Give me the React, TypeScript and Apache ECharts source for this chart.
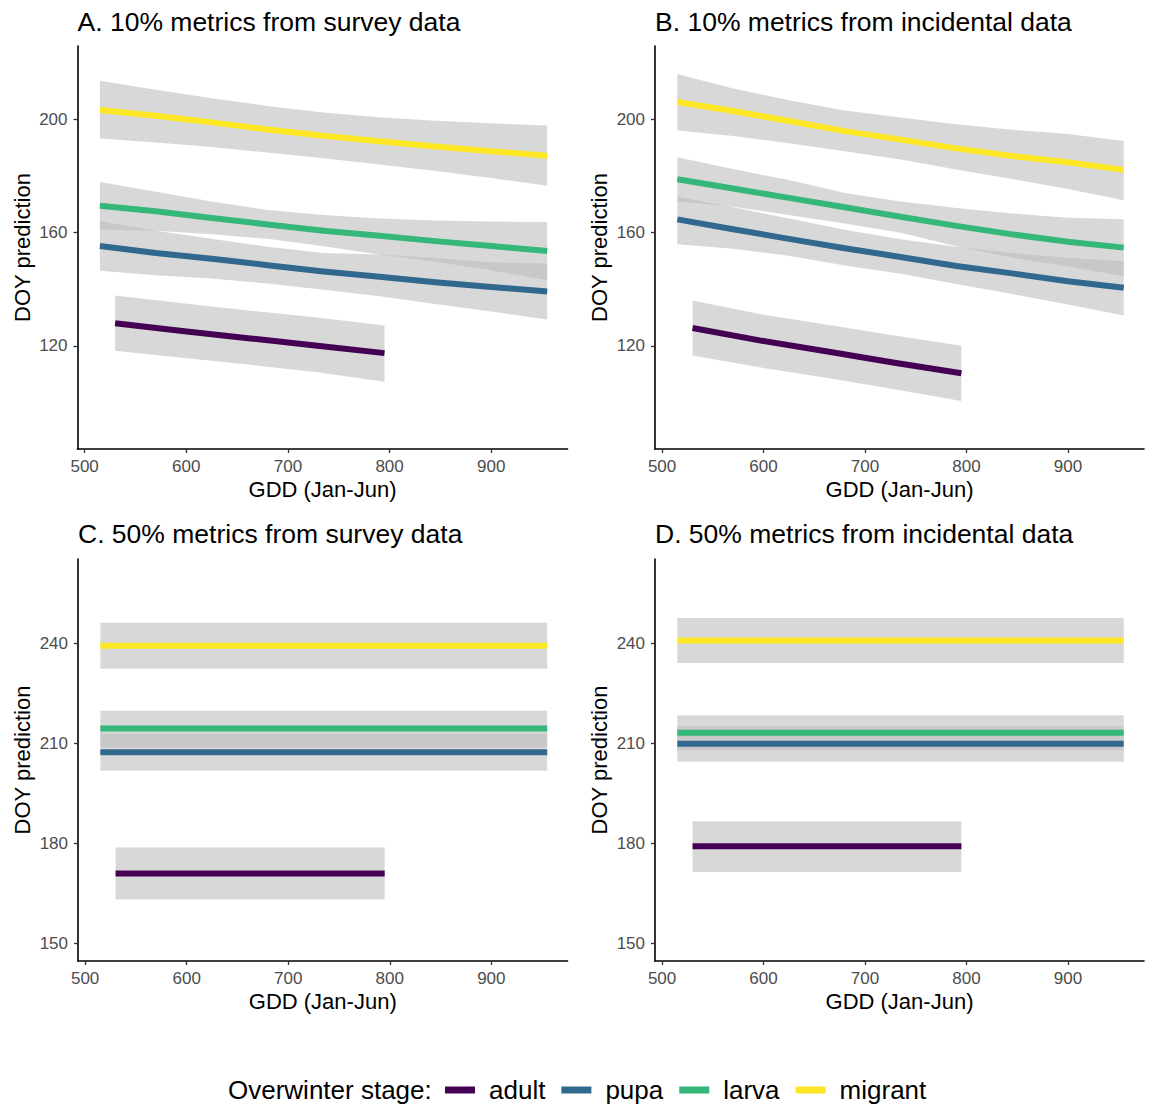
import React, { useEffect, useRef } from "react";
import * as echarts from "echarts";

const FONT = '"Liberation Sans", Arial, Helvetica, sans-serif';
const STAGES = ["adult", "pupa", "larva", "migrant"];
const COLORS = ["#440154", "#31688E", "#35B779", "#FDE725"];
const RIBBON = "rgba(190,190,190,0.6)";

const TITLES = [
  "A. 10% metrics from survey data",
  "B. 10% metrics from incidental data",
  "C. 50% metrics from survey data",
  "D. 50% metrics from incidental data",
];
const X_TITLE = "GDD (Jan-Jun)";
const Y_TITLE = "DOY prediction";
const LEGEND_TITLE = "Overwinter stage:";

const X_TICKS = [500, 600, 700, 800, 900];
const Y_TICKS_10 = [120, 160, 200];
const Y_TICKS_50 = [150, 180, 210, 240];

// x positions (GDD) of the fitted curves
const X_LONG = [515, 570, 625, 680, 735, 790, 845, 900, 955];
const X_ADULT = [530, 596, 663, 729, 795];
const X_FLAT_LONG = [515, 955];
const X_FLAT_ADULT = [530, 795];

// Panel A: 10% survey
const A_ADULT_FIT = [128.0, 125.2, 122.6, 120.0, 117.4];
const A_ADULT_LO = [118.2, 115.8, 113.3, 110.6, 107.3];
const A_ADULT_HI = [137.8, 135.0, 132.4, 130.0, 127.2];
const A_PUPA_FIT = [155.3, 152.8, 150.8, 148.5, 146.3, 144.4, 142.5, 140.8, 139.2];
const A_PUPA_LO = [146.5, 144.9, 143.8, 142.0, 139.8, 137.5, 134.8, 132.1, 129.3];
const A_PUPA_HI = [164.1, 160.7, 157.8, 155.0, 152.8, 152.3, 151.0, 149.5, 149.1];
const A_LARVA_FIT = [169.5, 167.6, 165.2, 162.9, 160.7, 158.9, 157.0, 155.3, 153.5];
const A_LARVA_LO = [161.1, 160.7, 159.4, 157.8, 155.2, 152.3, 149.7, 146.7, 143.2];
const A_LARVA_HI = [177.9, 174.5, 171.0, 168.0, 166.2, 165.0, 164.3, 163.9, 163.8];
const A_MIGRANT_FIT = [203.4, 201.3, 199.0, 196.5, 194.3, 192.3, 190.5, 188.8, 187.2];
const A_MIGRANT_LO = [193.3, 191.9, 190.3, 188.3, 186.3, 184.1, 181.8, 179.3, 176.6];
const A_MIGRANT_HI = [213.7, 210.5, 207.5, 204.8, 202.5, 200.8, 199.6, 198.7, 197.9];

// Panel B: 10% incidental
const B_ADULT_FIT = [126.3, 121.9, 118.0, 114.0, 110.3];
const B_ADULT_LO = [116.6, 112.4, 108.6, 104.6, 100.5];
const B_ADULT_HI = [136.0, 131.2, 127.4, 123.6, 120.0];
const B_PUPA_FIT = [164.7, 161.2, 157.8, 154.5, 151.4, 148.2, 145.6, 142.8, 140.5];
const B_PUPA_LO = [155.9, 154.3, 151.8, 148.4, 145.5, 141.8, 138.3, 134.6, 130.7];
const B_PUPA_HI = [172.8, 169.0, 165.0, 161.0, 157.7, 155.0, 152.8, 151.1, 149.9];
const B_LARVA_FIT = [178.9, 175.6, 172.3, 169.0, 165.6, 162.4, 159.4, 156.8, 154.7];
const B_LARVA_LO = [171.1, 169.2, 166.2, 163.2, 160.0, 155.2, 151.2, 148.0, 144.6];
const B_LARVA_HI = [186.7, 182.5, 178.6, 174.0, 171.0, 168.7, 166.8, 165.3, 164.7];
const B_MIGRANT_FIT = [206.2, 203.0, 199.5, 195.9, 192.9, 189.8, 187.1, 184.9, 182.2];
const B_MIGRANT_LO = [196.1, 194.2, 191.6, 188.8, 185.9, 182.3, 179.0, 175.4, 171.5];
const B_MIGRANT_HI = [216.1, 211.0, 206.8, 203.2, 200.7, 198.3, 196.4, 194.9, 192.4];

// Panel C: 50% survey (constant predictions)
const C_ADULT_FIT = [171.0, 171.0];
const C_ADULT_LO = [163.2, 163.2];
const C_ADULT_HI = [178.8, 178.8];
const C_PUPA_FIT = [207.4, 207.4];
const C_PUPA_LO = [201.8, 201.8];
const C_PUPA_HI = [213.0, 213.0];
const C_LARVA_FIT = [214.5, 214.5];
const C_LARVA_LO = [208.9, 208.9];
const C_LARVA_HI = [219.8, 219.8];
const C_MIGRANT_FIT = [239.3, 239.3];
const C_MIGRANT_LO = [232.4, 232.4];
const C_MIGRANT_HI = [246.2, 246.2];

// Panel D: 50% incidental (constant predictions)
const D_ADULT_FIT = [179.2, 179.2];
const D_ADULT_LO = [171.5, 171.5];
const D_ADULT_HI = [186.7, 186.7];
const D_PUPA_FIT = [209.9, 209.9];
const D_PUPA_LO = [204.5, 204.5];
const D_PUPA_HI = [215.2, 215.2];
const D_LARVA_FIT = [213.2, 213.2];
const D_LARVA_LO = [207.9, 207.9];
const D_LARVA_HI = [218.5, 218.5];
const D_MIGRANT_FIT = [240.9, 240.9];
const D_MIGRANT_LO = [234.1, 234.1];
const D_MIGRANT_HI = [247.6, 247.6];

type Stage = { x: number[]; fit: number[]; lo: number[]; hi: number[] };
type Panel = {
  title: string;
  left: number;
  top: number;
  width: number;
  height: number;
  titleY: number;
  yMin: number;
  yMax: number;
  yTicks: number[];
  stages: Stage[];
};

const PANELS: Panel[] = [
  {
    title: TITLES[0], left: 77.5, top: 46, width: 490, height: 403, titleY: 22,
    yMin: 83.5, yMax: 226, yTicks: Y_TICKS_10,
    stages: [
      { x: X_ADULT, fit: A_ADULT_FIT, lo: A_ADULT_LO, hi: A_ADULT_HI },
      { x: X_LONG, fit: A_PUPA_FIT, lo: A_PUPA_LO, hi: A_PUPA_HI },
      { x: X_LONG, fit: A_LARVA_FIT, lo: A_LARVA_LO, hi: A_LARVA_HI },
      { x: X_LONG, fit: A_MIGRANT_FIT, lo: A_MIGRANT_LO, hi: A_MIGRANT_HI },
    ],
  },
  {
    title: TITLES[1], left: 655, top: 46, width: 489, height: 403, titleY: 22,
    yMin: 83.5, yMax: 226, yTicks: Y_TICKS_10,
    stages: [
      { x: X_ADULT, fit: B_ADULT_FIT, lo: B_ADULT_LO, hi: B_ADULT_HI },
      { x: X_LONG, fit: B_PUPA_FIT, lo: B_PUPA_LO, hi: B_PUPA_HI },
      { x: X_LONG, fit: B_LARVA_FIT, lo: B_LARVA_LO, hi: B_LARVA_HI },
      { x: X_LONG, fit: B_MIGRANT_FIT, lo: B_MIGRANT_LO, hi: B_MIGRANT_HI },
    ],
  },
  {
    title: TITLES[2], left: 78, top: 559, width: 489.5, height: 402, titleY: 534,
    yMin: 144.8, yMax: 265.3, yTicks: Y_TICKS_50,
    stages: [
      { x: X_FLAT_ADULT, fit: C_ADULT_FIT, lo: C_ADULT_LO, hi: C_ADULT_HI },
      { x: X_FLAT_LONG, fit: C_PUPA_FIT, lo: C_PUPA_LO, hi: C_PUPA_HI },
      { x: X_FLAT_LONG, fit: C_LARVA_FIT, lo: C_LARVA_LO, hi: C_LARVA_HI },
      { x: X_FLAT_LONG, fit: C_MIGRANT_FIT, lo: C_MIGRANT_LO, hi: C_MIGRANT_HI },
    ],
  },
  {
    title: TITLES[3], left: 655, top: 559, width: 489, height: 402, titleY: 534,
    yMin: 144.8, yMax: 265.3, yTicks: Y_TICKS_50,
    stages: [
      { x: X_FLAT_ADULT, fit: D_ADULT_FIT, lo: D_ADULT_LO, hi: D_ADULT_HI },
      { x: X_FLAT_LONG, fit: D_PUPA_FIT, lo: D_PUPA_LO, hi: D_PUPA_HI },
      { x: X_FLAT_LONG, fit: D_LARVA_FIT, lo: D_LARVA_LO, hi: D_LARVA_HI },
      { x: X_FLAT_LONG, fit: D_MIGRANT_FIT, lo: D_MIGRANT_LO, hi: D_MIGRANT_HI },
    ],
  },
];

function buildOption(): any {
  const grid = PANELS.map((p) => ({
    left: p.left,
    top: p.top,
    width: p.width,
    height: p.height,
    containLabel: false,
  }));

  const xAxis = PANELS.map((p, i) => ({
    type: "value",
    gridIndex: i,
    min: 493,
    max: 975,
    splitLine: { show: false },
    axisLine: { show: true, onZero: false, lineStyle: { color: "#000", width: 1.6 } },
    axisTick: { show: true, length: 4, customValues: X_TICKS, lineStyle: { color: "#333", width: 1.3 } },
    axisLabel: { customValues: X_TICKS, fontSize: 17, color: "#4D4D4D", fontFamily: FONT, margin: 9 },
  }));

  const yAxis = PANELS.map((p, i) => ({
    type: "value",
    gridIndex: i,
    min: p.yMin,
    max: p.yMax,
    splitLine: { show: false },
    axisLine: { show: true, onZero: false, lineStyle: { color: "#000", width: 1.6 } },
    axisTick: { show: true, length: 4, customValues: p.yTicks, lineStyle: { color: "#333", width: 1.3 } },
    axisLabel: { customValues: p.yTicks, fontSize: 17, color: "#4D4D4D", fontFamily: FONT, margin: 10 },
  }));

  const series: any[] = [];
  PANELS.forEach((p, i) => {
    p.stages.forEach((s) => {
      series.push({
        type: "custom",
        xAxisIndex: i,
        yAxisIndex: i,
        z: 1,
        silent: true,
        data: s.x.map((x, k) => [x, s.lo[k], s.hi[k]]),
        encode: { x: 0, y: [1, 2] },
        renderItem: (params: any, api: any) => {
          if (params.dataIndex !== 0) return null;
          const pts: number[][] = [];
          for (let k = 0; k < s.x.length; k++) pts.push(api.coord([s.x[k], s.hi[k]]));
          for (let k = s.x.length - 1; k >= 0; k--) pts.push(api.coord([s.x[k], s.lo[k]]));
          return { type: "polygon", shape: { points: pts }, style: { fill: RIBBON } };
        },
      });
    });
  });
  PANELS.forEach((p, i) => {
    p.stages.forEach((s, j) => {
      series.push({
        type: "line",
        name: STAGES[j],
        xAxisIndex: i,
        yAxisIndex: i,
        z: 3,
        silent: true,
        color: COLORS[j],
        showSymbol: false,
        symbol: "none",
        smooth: false,
        data: s.x.map((x, k) => [x, s.fit[k]]),
        lineStyle: { width: 6, color: COLORS[j], cap: "butt", join: "round" },
        itemStyle: { color: COLORS[j] },
      });
    });
  });

  const graphic: any[] = [];
  PANELS.forEach((p) => {
    graphic.push({
      type: "text",
      x: p.left,
      y: p.titleY,
      style: {
        text: p.title, fontSize: 26.5, fontFamily: FONT, fill: "#000",
        textAlign: "left", textVerticalAlign: "middle", align: "left", verticalAlign: "middle",
      },
    });
    graphic.push({
      type: "text",
      x: p.left + p.width / 2,
      y: p.top + p.height + 40,
      style: {
        text: X_TITLE, fontSize: 22, fontFamily: FONT, fill: "#000",
        textAlign: "center", textVerticalAlign: "middle", align: "center", verticalAlign: "middle",
      },
    });
    graphic.push({
      type: "text",
      x: p.left - 55.5,
      y: p.top + p.height / 2,
      rotation: Math.PI / 2,
      style: {
        text: Y_TITLE, fontSize: 22, fontFamily: FONT, fill: "#000",
        textAlign: "center", textVerticalAlign: "middle", align: "center", verticalAlign: "middle",
      },
    });
  });
  graphic.push({
    type: "text",
    x: 228,
    y: 1090,
    style: {
      text: LEGEND_TITLE, fontSize: 26, fontFamily: FONT, fill: "#000",
      textAlign: "left", textVerticalAlign: "middle", align: "left", verticalAlign: "middle",
    },
  });

  return {
    animation: false,
    backgroundColor: "#fff",
    grid,
    xAxis,
    yAxis,
    series,
    graphic,
    legend: {
      data: STAGES,
      left: 445,
      top: 1077,
      padding: 0,
      orient: "horizontal",
      icon: "rect",
      itemWidth: 30,
      itemHeight: 7,
      itemGap: 16,
      selectedMode: false,
      itemStyle: { borderWidth: 0 },
      textStyle: { fontSize: 26, color: "#000", fontFamily: FONT, padding: [0, 0, 0, 9] },
    },
  };
}

export default function App() {
  const ref = useRef<HTMLDivElement>(null);
  useEffect(() => {
    if (!ref.current) return;
    const chart = echarts.init(ref.current, undefined, { renderer: "svg" });
    chart.setOption(buildOption());
    return () => chart.dispose();
  }, []);
  return (
    <div
      ref={ref}
      style={{ position: "absolute", left: 0, top: 0, width: 1153, height: 1104, background: "#fff" }}
    />
  );
}
